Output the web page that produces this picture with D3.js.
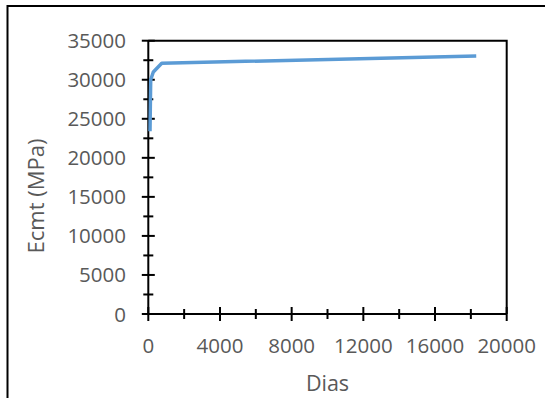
<!DOCTYPE html>
<html>
<head>
<meta charset="utf-8">
<script src="https://cdn.jsdelivr.net/npm/d3@7"></script>
<style>
  html, body { margin: 0; padding: 0; background: #fff; }
  svg { display: block; }
  text { font-family: "Open Sans", "DejaVu Sans", sans-serif; fill: #595959; }
</style>
</head>
<body>
<svg id="chart" width="545" height="398"></svg>
<script>
// Modulus of elasticity over time
const days = [95, 134, 280, 750, 18300];
const ecmt = [23400, 30000, 31000, 32100, 33050];

const xTicks = [0, 4000, 8000, 12000, 16000, 20000];
const xMinorTicks = [2000, 6000, 10000, 14000, 18000];
const yTicks = [0, 5000, 10000, 15000, 20000, 25000, 30000, 35000];
const yMinorTicks = [2500, 7500, 12500, 17500, 22500, 27500, 32500];

const xTitle = "Dias";
const yTitle = "Ecmt (MPa)";

const svg = d3.select("#chart");

// outer chart frame
svg.append("rect")
  .attr("x", 7.5).attr("y", 6).attr("width", 560).attr("height", 420)
  .attr("fill", "none").attr("stroke", "#000").attr("stroke-width", 2);

const x = d3.scaleLinear().domain([0, 20000]).range([148.3, 506.7]);
const y = d3.scaleLinear().domain([0, 35000]).range([314, 40.7]);

const plot = svg.append("g");

// plot-area box (top and right edges)
plot.append("path")
  .attr("d", `M${x(0)},${y(35000)}H${x(20000)}V${y(0)}`)
  .attr("fill", "none").attr("stroke", "#000").attr("stroke-width", 2);

// crossing tick marks
function crossTicksY(vals, half) {
  plot.append("g").selectAll("line").data(vals).join("line")
    .attr("x1", x(0) - half).attr("x2", x(0) + half)
    .attr("y1", d => y(d)).attr("y2", d => y(d))
    .attr("stroke", "#000").attr("stroke-width", 2);
}
function crossTicksX(vals, half) {
  plot.append("g").selectAll("line").data(vals).join("line")
    .attr("y1", y(0) - half).attr("y2", y(0) + half)
    .attr("x1", d => x(d)).attr("x2", d => x(d))
    .attr("stroke", "#000").attr("stroke-width", 2);
}
crossTicksY(yTicks, 6.5);
crossTicksY(yMinorTicks, 5);
crossTicksX(xTicks, 7);
crossTicksX(xMinorTicks, 5);

// axis lines
plot.append("line")
  .attr("x1", x(0)).attr("x2", x(0)).attr("y1", y(0)).attr("y2", y(35000))
  .attr("stroke", "#000").attr("stroke-width", 2);
plot.append("line")
  .attr("x1", x(0)).attr("x2", x(20000)).attr("y1", y(0)).attr("y2", y(0))
  .attr("stroke", "#000").attr("stroke-width", 2);

// tick labels
plot.append("g").selectAll("text").data(yTicks).join("text")
  .attr("x", 126).attr("y", d => y(d) + 7.5)
  .attr("text-anchor", "end").attr("font-size", 20.5)
  .text(d => d);
plot.append("g").selectAll("text").data(xTicks).join("text")
  .attr("x", d => x(d)).attr("y", 353)
  .attr("text-anchor", "middle").attr("font-size", 20.5)
  .text(d => d);

// axis titles
svg.append("text")
  .attr("x", 327.5).attr("y", 390.5)
  .attr("text-anchor", "middle").attr("font-size", 21.5)
  .text(xTitle);
svg.append("text")
  .attr("transform", "translate(44,196) rotate(-90)")
  .attr("text-anchor", "middle").attr("font-size", 22)
  .text(yTitle);

// series line
const line = d3.line().x((d, i) => x(days[i])).y(d => y(d));
plot.append("path")
  .datum(ecmt)
  .attr("d", line)
  .attr("fill", "none")
  .attr("stroke", "#5B9BD5")
  .attr("stroke-width", 3.5)
  .attr("stroke-linejoin", "round");
</script>
</body>
</html>
